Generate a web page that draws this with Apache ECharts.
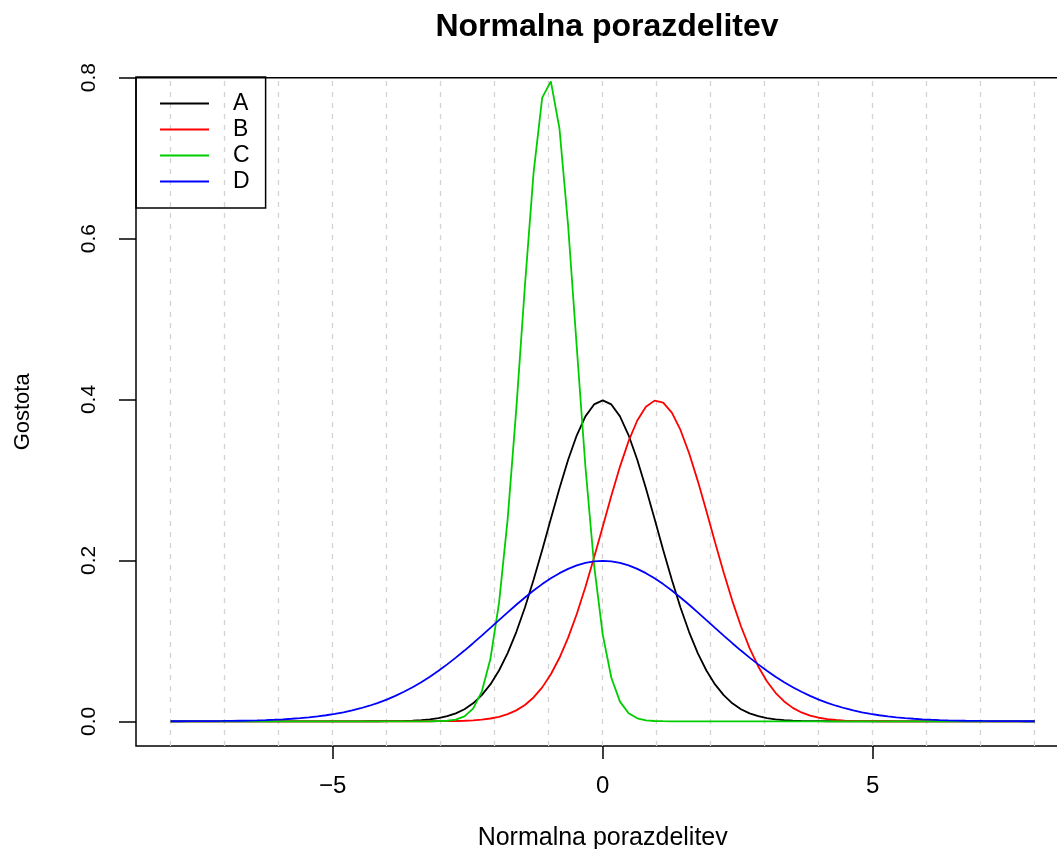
<!DOCTYPE html>
<html>
<head>
<meta charset="utf-8">
<title>Normalna porazdelitev</title>
<script src="https://cdn.jsdelivr.net/npm/echarts@6/dist/echarts.min.js"></script>
<style>
  body { margin: 0; background: #fff; }
  #chart { width: 1057px; height: 849px; }
</style>
</head>
<body>
<div id="chart"></div>
<script>
// x points of the curves (-8 .. 8, step 0.16)
var xs = [
  -8, -7.84, -7.68, -7.52, -7.36, -7.2, -7.04, -6.88, -6.72, -6.56,
  -6.4, -6.24, -6.08, -5.92, -5.76, -5.6, -5.44, -5.28, -5.12, -4.96,
  -4.8, -4.64, -4.48, -4.32, -4.16, -4, -3.84, -3.68, -3.52, -3.36,
  -3.2, -3.04, -2.88, -2.72, -2.56, -2.4, -2.24, -2.08, -1.92, -1.76,
  -1.6, -1.44, -1.28, -1.12, -0.96, -0.8, -0.64, -0.48, -0.32, -0.16,
  0,
  0.16, 0.32, 0.48, 0.64, 0.8, 0.96, 1.12, 1.28, 1.44, 1.6,
  1.76, 1.92, 2.08, 2.24, 2.4, 2.56, 2.72, 2.88, 3.04, 3.2,
  3.36, 3.52, 3.68, 3.84, 4, 4.16, 4.32, 4.48, 4.64, 4.8,
  4.96, 5.12, 5.28, 5.44, 5.6, 5.76, 5.92, 6.08, 6.24, 6.4,
  6.56, 6.72, 6.88, 7.04, 7.2, 7.36, 7.52, 7.68, 7.84, 8
]

var yA = [
  0, 0, 0, 0, 0, 0, 0, 0, 0, 0,
  0, 0, 0, 0, 0, 0, 0, 0, 0, 0,
  0, 0.00001, 0.00002, 0.00004, 0.00007, 0.00013, 0.00025, 0.00046, 0.00081, 0.00141,
  0.00238, 0.00393, 0.00631, 0.00987, 0.01506, 0.02239, 0.03246, 0.04586, 0.06316, 0.08478,
  0.11092, 0.14146, 0.17585, 0.21307, 0.25165, 0.28969, 0.32506, 0.35553, 0.37903, 0.39387,
  0.39894,
  0.39387, 0.37903, 0.35553, 0.32506, 0.28969, 0.25165, 0.21307, 0.17585, 0.14146, 0.11092,
  0.08478, 0.06316, 0.04586, 0.03246, 0.02239, 0.01506, 0.00987, 0.00631, 0.00393, 0.00238,
  0.00141, 0.00081, 0.00046, 0.00025, 0.00013, 0.00007, 0.00004, 0.00002, 0.00001, 0,
  0, 0, 0, 0, 0, 0, 0, 0, 0, 0,
  0, 0, 0, 0, 0, 0, 0, 0, 0, 0
]

var yB = [
  0, 0, 0, 0, 0, 0, 0, 0, 0, 0,
  0, 0, 0, 0, 0, 0, 0, 0, 0, 0,
  0, 0, 0, 0, 0, 0, 0, 0.00001, 0.00001, 0.00003,
  0.00006, 0.00011, 0.00021, 0.00039, 0.00071, 0.00123, 0.0021, 0.00348, 0.00562, 0.00885,
  0.01358, 0.02033, 0.02965, 0.04217, 0.05844, 0.07895, 0.10396, 0.13344, 0.16694, 0.20357,
  0.24197, 0.28034, 0.31659, 0.34849, 0.37391, 0.39104, 0.39862, 0.39608, 0.38361, 0.36213,
  0.33322, 0.29887, 0.26128, 0.22266, 0.18494, 0.14973, 0.11816, 0.09089, 0.06814, 0.0498,
  0.03547, 0.02463, 0.01667, 0.011, 0.00707, 0.00443, 0.00271, 0.00161, 0.00094, 0.00053,
  0.00029, 0.00016, 0.00008, 0.00004, 0.00002, 0.00001, 0, 0, 0, 0,
  0, 0, 0, 0, 0, 0, 0, 0, 0, 0, 0
]

var yC = [
  0, 0, 0, 0, 0, 0, 0, 0, 0, 0,
  0, 0, 0, 0, 0, 0, 0, 0, 0, 0,
  0, 0, 0, 0, 0, 0, 0, 0, 0, 0.00001,
  0.00005, 0.00019, 0.00068, 0.00215, 0.00614, 0.01583, 0.03685, 0.07741, 0.14681, 0.25133,
  0.38837, 0.54173, 0.68209, 0.77523, 0.79534, 0.73654, 0.61571, 0.46459, 0.31645, 0.19456,
  0.10798, 0.0541, 0.02446, 0.00999, 0.00368, 0.00122, 0.00037, 0.0001, 0.00002, 0,
  0, 0, 0, 0, 0, 0, 0, 0, 0, 0,
  0, 0, 0, 0, 0, 0, 0, 0, 0, 0,
  0, 0, 0, 0, 0, 0, 0, 0, 0, 0,
  0, 0, 0, 0, 0, 0, 0, 0, 0, 0, 0
]

var yD = [
  0.00007, 0.00009, 0.00013, 0.00017, 0.00023, 0.00031, 0.00041, 0.00054, 0.00071, 0.00092,
  0.00119, 0.00154, 0.00196, 0.0025, 0.00315, 0.00396, 0.00493, 0.00612, 0.00753, 0.00921,
  0.0112, 0.01352, 0.01623, 0.01935, 0.02293, 0.027, 0.03158, 0.0367, 0.04239, 0.04864,
  0.05546, 0.06283, 0.07073, 0.07911, 0.08792, 0.09709, 0.10653, 0.11615, 0.12582, 0.13543,
  0.14485, 0.15393, 0.16253, 0.17052, 0.17777, 0.18414, 0.18952, 0.19381, 0.19693, 0.19883,
  0.19947,
  0.19883, 0.19693, 0.19381, 0.18952, 0.18414, 0.17777, 0.17052, 0.16253, 0.15393, 0.14485,
  0.13543, 0.12582, 0.11615, 0.10653, 0.09709, 0.08792, 0.07911, 0.07073, 0.06283, 0.05546,
  0.04864, 0.04239, 0.0367, 0.03158, 0.027, 0.02293, 0.01935, 0.01623, 0.01352, 0.0112,
  0.00921, 0.00753, 0.00612, 0.00493, 0.00396, 0.00315, 0.0025, 0.00196, 0.00154, 0.00119,
  0.00092, 0.00071, 0.00054, 0.00041, 0.00031, 0.00023, 0.00017, 0.00013, 0.00009, 0.00007
]

var seriesNames = ['A', 'B', 'C', 'D']
var seriesColors = ['#000000', '#ff0000', '#00cd00', '#0000ff']
var xTicks = [-5, 0, 5]
var yTicks = [0, 0.2, 0.4, 0.6, 0.8]
// dashed vertical guide lines
var gridX = [-8, -7, -6, -5, -4, -3, -2, -1, 0, 1, 2, 3, 4, 5, 6, 7, 8]

var font = '"Liberation Sans", Arial, Helvetica, sans-serif'

function pairs(ys) {
  return xs.map(function (x, i) {
    return [x, ys[i]]
  })
}

var series = [yA, yB, yC, yD].map(function (ys, i) {
  var s = {
    name: seriesNames[i],
    type: 'line',
    data: pairs(ys),
    symbol: 'none',
    silent: true,
    animation: false,
    lineStyle: { color: seriesColors[i], width: 1.8 },
    itemStyle: { color: seriesColors[i] },
    emphasis: { disabled: true },
  }
  if (i === 0) {
    s.markLine = {
      silent: true,
      symbol: 'none',
      z: 1,
      animation: false,
      label: { show: false },
      lineStyle: { color: '#d3d3d3', type: [5, 6], width: 1.3 },
      emphasis: { disabled: true },
      data: gridX.map(function (v) {
        return { xAxis: v }
      }),
    }
  }
  return s
})

var chart = echarts.init(document.getElementById('chart'), null, { renderer: 'canvas' })
chart.setOption({
  animation: false,
  backgroundColor: '#ffffff',
  title: {
    text: 'Normalna porazdelitev',
    left: 607,
    top: 11,
    padding: 0,
    textAlign: 'center',
    textStyle: { fontFamily: font, fontSize: 32, fontWeight: 'bold', color: '#000' },
  },
  legend: {
    data: seriesNames,
    orient: 'vertical',
    left: 136,
    top: 77,
    padding: [15, 16, 15, 24],
    borderColor: '#000',
    borderWidth: 1.5,
    icon: 'rect',
    itemWidth: 49,
    itemHeight: 2,
    itemGap: 3,
    selectedMode: false,
    textStyle: { fontFamily: font, fontSize: 23, color: '#000', padding: [0, 0, 0, 19] },
  },
  grid: {
    left: 136,
    right: -12.4,
    top: 77.7,
    bottom: 103,
    show: true,
    borderColor: '#000',
    borderWidth: 1.5,
    backgroundColor: 'transparent',
    containLabel: false,
    outerBoundsMode: 'none',
  },
  xAxis: {
    type: 'value',
    min: -8.642,
    max: 8.642,
    name: 'Normalna porazdelitev',
    nameLocation: 'middle',
    nameGap: 80,
    nameTextStyle: { fontFamily: font, fontSize: 25, color: '#000' },
    axisLine: { show: false, onZero: false },
    splitLine: { show: false },
    axisTick: {
      show: true,
      length: 13,
      customValues: xTicks,
      lineStyle: { color: '#000', width: 1.5 },
    },
    axisLabel: {
      customValues: xTicks,
      margin: 28,
      fontFamily: font,
      fontSize: 24,
      color: '#000',
      formatter: function (v) {
        return v < 0 ? '\u2212' + Math.abs(v) : String(v)
      },
    },
  },
  yAxis: {
    type: 'value',
    min: -0.0307,
    max: 0.8,
    name: 'Gostota',
    nameLocation: 'middle',
    nameRotate: 90,
    nameGap: 102,
    nameTextStyle: { fontFamily: font, fontSize: 22, color: '#000' },
    axisLine: { show: false, onZero: false },
    splitLine: { show: false },
    axisTick: {
      show: true,
      length: 17,
      customValues: yTicks,
      lineStyle: { color: '#000', width: 1.5 },
    },
    axisLabel: {
      customValues: yTicks,
      rotate: 90,
      margin: 36,
      fontFamily: font,
      fontSize: 21,
      color: '#000',
      formatter: function (v) {
        return v.toFixed(1)
      },
    },
  },
  series: series,
})
</script>
</body>
</html>
